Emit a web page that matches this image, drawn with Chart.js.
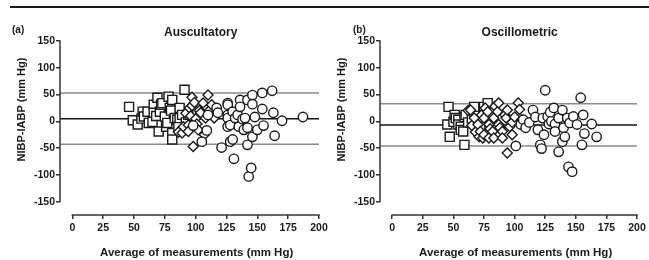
<!DOCTYPE html>
<html><head><meta charset="utf-8">
<script src="https://cdn.jsdelivr.net/npm/chart.js@4.4.1/dist/chart.umd.min.js"></script>
<style>
html,body{margin:0;padding:0;background:#fff;}
#wrap{position:relative;width:649px;height:260px;overflow:hidden;background:#fff;}
#rule{position:absolute;left:10px;top:6px;width:639px;height:2px;background:#1a1a1a;}
.cv{position:absolute;top:0;}
</style></head><body>
<div id="wrap"><div id="rule"></div>
<canvas id="ca" class="cv" width="340" height="260" style="left:0;width:340px;height:260px"></canvas>
<canvas id="cb" class="cv" width="329" height="260" style="left:320px;width:329px;height:260px"></canvas>
</div>
<script>
// ---------- data ----------
const xTicks = [0, 25, 50, 75, 100, 125, 150, 175, 200];
const yTicks = [-150, -100, -50, 0, 50, 100, 150];
const panelLabels = ["(a)", "(b)"];
const panelTitles = ["Auscultatory", "Oscillometric"];
const xTitle = "Average of measurements (mm Hg)";
const yTitle = "NIBP-IABP (mm Hg)";

// [upper limit, mean bias, lower limit]
const ausLines = [53, 5, -43];
const oscLines = [33, -7, -46];

const ausSquares = [[46,27],[49,2],[53,-6],[56,5],[57,18],[58,9],[61,18],[62,-3],[65,-1],[66,31],[66,16],[68,10],[69,44],[70,-19],[71,18],[72,31],[73,34],[75,9],[76,-10],[77,-3],[78,46],[79,25],[80,20],[81,40],[81,-22],[81,-34],[83,6],[85,3],[86,-10],[87,25],[87,6],[89,12],[91,59],[92,-2],[94,12]];
const ausDiamonds = [[86,-20],[89,-22],[90,-10],[92,15],[94,-7],[94,-19],[95,25],[96,10],[97,45],[97,29],[98,-47],[99,35],[100,5],[101,-5],[102,-16],[103,20],[104,16],[106,34],[107,-25],[108,6],[110,49],[111,20],[113,31],[115,6]];
const ausCircles = [[98,-8],[105,-38],[109,-17],[110,12],[117,25],[118,16],[121,-49],[126,34],[126,31],[126,12],[126,6],[126,-10],[128,-7],[128,-38],[130,-34],[130,18],[131,-70],[132,6],[134,12],[135,-10],[136,40],[136,27],[138,4],[139,-16],[140,6],[142,40],[142,-12],[142,-44],[143,-103],[145,-87],[146,49],[146,32],[146,-29],[148,8],[150,-16],[154,53],[154,23],[155,-8],[162,57],[163,16],[164,-27],[170,1],[187,8]];

const oscSquares = [[45,-6],[46,27],[47,-29],[50,-1],[51,12],[52,6],[54,3],[54,-6],[56,-10],[56,-16],[58,-19],[59,8],[59,-44],[60,12],[62,-2],[65,5],[67,16],[67,27],[70,-3],[72,-10],[75,27],[78,34]];
const oscDiamonds = [[62,20],[64,21],[65,-8],[67,6],[68,-20],[70,-6],[71,-29],[72,-19],[73,12],[74,-31],[75,6],[75,-25],[76,25],[78,18],[79,-6],[79,-31],[80,-14],[82,-19],[83,6],[83,-31],[84,28],[86,18],[87,34],[87,-6],[88,-12],[90,-19],[90,-31],[92,12],[93,6],[94,21],[94,-59],[96,-10],[98,-2],[98,-25],[100,8],[103,34],[104,22],[106,3]];
const oscCircles = [[101,-46],[105,-6],[107,3],[109,-12],[112,-2],[115,21],[117,8],[119,-16],[121,-44],[122,-51],[123,6],[124,-25],[125,58],[127,9],[128,-5],[129,17],[130,0],[132,25],[133,-5],[133,-19],[136,6],[136,-57],[139,21],[139,-38],[140,-12],[141,-29],[143,6],[144,-85],[145,-3],[147,-94],[148,9],[151,-6],[154,44],[155,-44],[156,12],[157,-23],[163,-5],[167,-29]];

// ---------- drawing ----------
const FONT = "'Liberation Sans', Arial, Helvetica, sans-serif";
const INK = '#1a1a1a';
const X_MIN = -10, X_MAX = 200, Y_MIN = -175, Y_MAX = 150;

function pts(arr){ return arr.map(p => ({x:p[0], y:p[1]})); }
function hline(v, color){
  return {type:'line', data:[{x:X_MIN,y:v},{x:X_MAX,y:v}], borderColor:color, borderWidth:1.5,
          pointRadius:0, pointHoverRadius:0, fill:false, order:10};
}
function marks(arr, style, r){
  return {type:'scatter', data:pts(arr), pointStyle:style, pointRadius:r, pointHoverRadius:r,
          borderColor:INK, pointBorderWidth:1.4, backgroundColor:'#fff', pointBackgroundColor:'#fff',
          order: style==='circle'?1:(style==='rectRot'?2:3)};
}

const decor = {
  id:'decor',
  afterDraw(chart, args, o){
    const {ctx, chartArea:ca, scales:{x, y}} = chart;
    ctx.save();
    ctx.strokeStyle = '#333'; ctx.lineWidth = 1.5;
    ctx.beginPath();
    ctx.moveTo(ca.left, y.getPixelForValue(yTicks[yTicks.length-1]) - 0.75);
    ctx.lineTo(ca.left, y.getPixelForValue(yTicks[0]) + 0.75);
    ctx.stroke();
    ctx.beginPath();
    ctx.moveTo(x.getPixelForValue(xTicks[0]) - 0.75, ca.bottom);
    ctx.lineTo(x.getPixelForValue(xTicks[xTicks.length-1]) + 0.75, ca.bottom);
    ctx.stroke();
    ctx.fillStyle = INK;
    ctx.font = 'bold 10px ' + FONT;
    ctx.textAlign = 'left'; ctx.textBaseline = 'middle';
    ctx.fillText(o.letter, o.letterX, 30);
    const cx = (x.getPixelForValue(xTicks[0]) + x.getPixelForValue(xTicks[xTicks.length-1]))/2;
    ctx.font = 'bold 12px ' + FONT;
    ctx.textAlign = 'center';
    ctx.fillText(o.title, cx + 5, 33);
    ctx.font = 'bold 11.5px ' + FONT;
    ctx.fillText(xTitle, cx + 1, 253);
    ctx.translate(22, 109.5);
    ctx.rotate(-Math.PI/2);
    ctx.font = 'bold 11px ' + FONT;
    ctx.fillText(yTitle, 0, 0);
    ctx.restore();
  }
};

function makeChart(id, sq, di, ci, lines, letter, letterX, title, padRight){
  new Chart(document.getElementById(id), {
    data:{datasets:[
      hline(lines[0], '#8a8a8a'), hline(lines[2], '#8a8a8a'), hline(lines[1], '#111'),
      marks(sq, 'rect', 6.4), marks(di, 'rectRot', 5.0), marks(ci, 'circle', 4.7)
    ]},
    options:{
      responsive:false, animation:false, devicePixelRatio:1,
      layout:{padding:{left:0, top:41, right:padRight, bottom:0}},
      plugins:{legend:{display:false}, tooltip:{enabled:false}, title:{display:false},
               decor:{letter, letterX, title}},
      scales:{
        x:{type:'linear', min:X_MIN, max:X_MAX,
           afterBuildTicks: s => { s.ticks = xTicks.map(v => ({value:v})); },
           afterFit: s => { s.height = 45; s.paddingLeft = 0; s.paddingRight = 0; },
           border:{display:false},
           grid:{drawOnChartArea:false, drawTicks:true, tickLength:4, color:'#333', lineWidth:1.5},
           ticks:{color:INK, padding:3, maxRotation:0, autoSkip:false, font:{family:FONT, size:10.5, weight:'bold'},
                  callback: v => String(v)}},
        y:{type:'linear', min:Y_MIN, max:Y_MAX,
           afterBuildTicks: s => { s.ticks = yTicks.map(v => ({value:v})); },
           afterFit: s => { s.width = 60; s.paddingTop = 0; s.paddingBottom = 0; },
           border:{display:false},
           grid:{drawOnChartArea:false, drawTicks:true, tickLength:4, color:'#333', lineWidth:1.5},
           ticks:{color:INK, padding:1, autoSkip:false, font:{family:FONT, size:10.5, weight:'bold'},
                  callback: v => String(v)}}
      }
    },
    plugins:[decor]
  });
}

makeChart('ca', ausSquares, ausDiamonds, ausCircles, ausLines, panelLabels[0], 12, panelTitles[0], 21);
makeChart('cb', oscSquares, oscDiamonds, oscCircles, oscLines, panelLabels[1], 33, panelTitles[1], 12);
</script>
</body></html>
